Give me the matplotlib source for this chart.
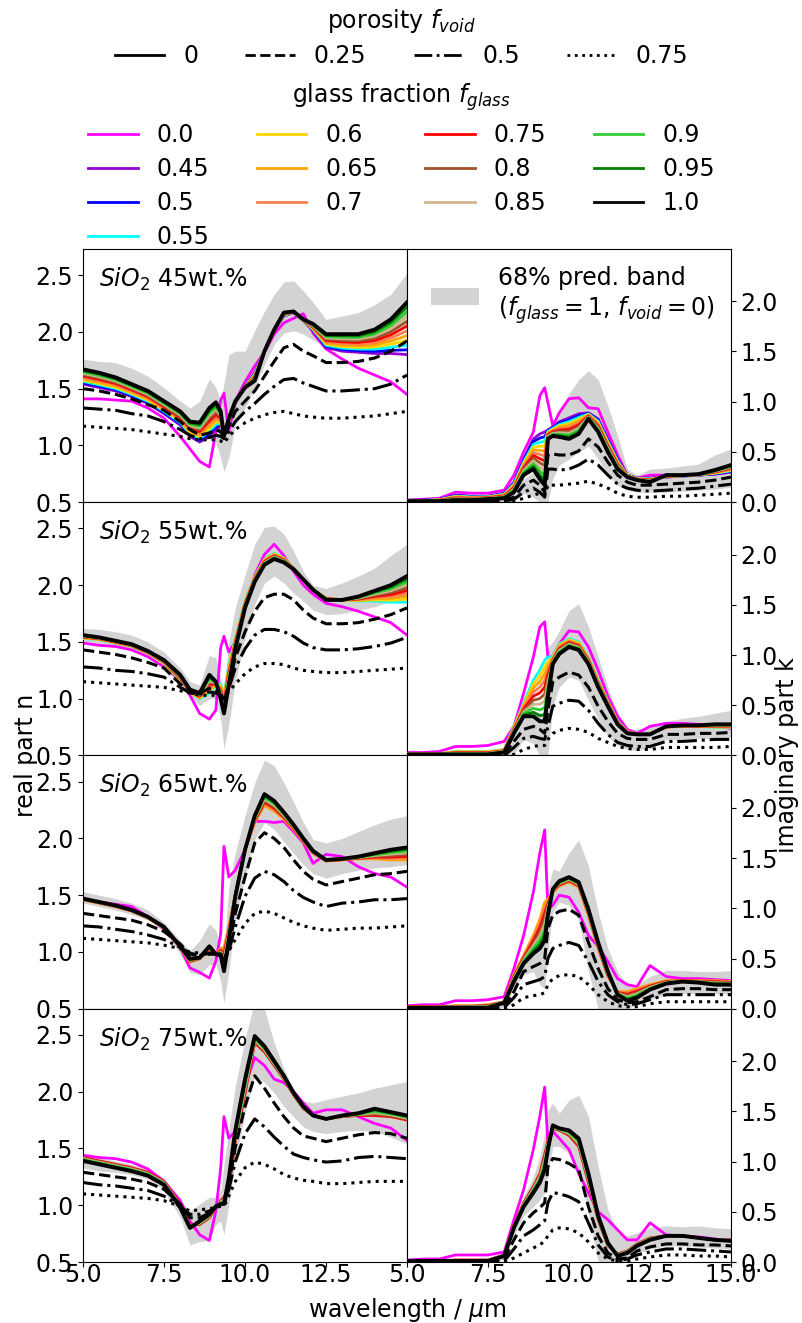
import matplotlib

matplotlib.use("Agg")
import matplotlib.pyplot as plt
import numpy as np
from matplotlib.lines import Line2D
from matplotlib.patches import Patch

# shared wavelength grid (micron)
WAVELENGTH = [5.0, 5.5, 6.0, 6.5, 7.0, 7.5, 8.0, 8.3, 8.6, 8.9, 9.1, 9.25, 9.35, 9.5, 9.7,
              10.0, 10.3, 10.6, 10.9, 11.2, 11.5, 11.8, 12.1, 12.5, 13.0, 13.5, 14.0, 14.5, 15.0]

GLASS_FRACTIONS = [0.0, 0.45, 0.5, 0.55, 0.6, 0.65, 0.7, 0.75, 0.8, 0.85, 0.9, 0.95, 1.0]
GLASS_COLORS = ["magenta", "darkviolet", "blue", "cyan", "gold", "orange", "coral",
                "red", "sienna", "tan", "limegreen", "green", "black"]
POROSITY = ["0", "0.25", "0.5", "0.75"]
SIO2_WT = ["45", "55", "65", "75"]
MIN_GLASS = [0.45, 0.55, 0.65, 0.75]  # lowest glass fraction drawn per composition

# ---- SiO2 45 wt.% ----
N45_G0 = [1.41, 1.41, 1.40, 1.39, 1.33, 1.24, 1.08, 0.97, 0.86, 0.81, 1.12, 1.40, 1.46, 1.12, 1.39,
          1.56, 1.70, 1.82, 1.98, 2.08, 2.12, 2.16, 1.99, 1.85, 1.76, 1.68, 1.62, 1.56, 1.45]
N45_GMIN = [1.54, 1.51, 1.48, 1.43, 1.37, 1.28, 1.18, 1.08, 1.03, 1.08, 1.14, 1.17, 1.08, 1.21, 1.37,
            1.52, 1.64, 1.83, 2.01, 2.14, 2.17, 2.10, 2.01, 1.86, 1.83, 1.82, 1.81, 1.81, 1.80]
N45_G1 = [1.67, 1.64, 1.60, 1.54, 1.48, 1.39, 1.30, 1.21, 1.20, 1.33, 1.38, 1.30, 1.08, 1.24, 1.39,
          1.51, 1.57, 1.83, 2.02, 2.17, 2.18, 2.11, 2.07, 1.98, 1.98, 1.98, 2.02, 2.11, 2.26]
N45_V25 = [1.50, 1.48, 1.45, 1.41, 1.36, 1.31, 1.21, 1.14, 1.09, 1.11, 1.14, 1.12, 1.07, 1.17, 1.30,
           1.39, 1.48, 1.61, 1.74, 1.86, 1.89, 1.83, 1.79, 1.73, 1.73, 1.74, 1.77, 1.83, 1.92]
N45_V50 = [1.33, 1.32, 1.31, 1.28, 1.26, 1.21, 1.14, 1.09, 1.06, 1.07, 1.09, 1.08, 1.06, 1.12, 1.21,
           1.30, 1.37, 1.45, 1.52, 1.58, 1.59, 1.55, 1.52, 1.48, 1.48, 1.49, 1.50, 1.54, 1.62]
N45_V75 = [1.17, 1.16, 1.15, 1.14, 1.12, 1.10, 1.08, 1.06, 1.05, 1.05, 1.05, 1.04, 1.02, 1.08, 1.14,
           1.20, 1.24, 1.27, 1.29, 1.30, 1.28, 1.26, 1.25, 1.24, 1.24, 1.25, 1.26, 1.28, 1.30]
N45_LO = [1.59, 1.56, 1.52, 1.46, 1.40, 1.31, 1.21, 1.12, 1.06, 1.06, 1.03, 0.89, 0.77, 0.89, 1.18,
          1.33, 1.51, 1.71, 1.89, 1.99, 2.01, 1.98, 1.93, 1.87, 1.89, 1.90, 1.93, 1.98, 2.07]
N45_HI = [1.76, 1.74, 1.73, 1.68, 1.61, 1.51, 1.39, 1.33, 1.39, 1.59, 1.51, 1.39, 1.54, 1.80, 1.83,
          1.83, 2.01, 2.18, 2.33, 2.44, 2.45, 2.36, 2.26, 2.11, 2.14, 2.17, 2.24, 2.33, 2.52]
K45_G0 = [0.02, 0.03, 0.04, 0.10, 0.09, 0.09, 0.12, 0.27, 0.50, 0.70, 1.06, 1.14, 0.99, 0.76, 0.89,
          1.03, 1.04, 0.94, 0.93, 0.70, 0.47, 0.27, 0.24, 0.27, 0.27, 0.27, 0.27, 0.28, 0.30]
K45_GMIN = [0.02, 0.02, 0.03, 0.07, 0.06, 0.06, 0.09, 0.20, 0.43, 0.63, 0.68, 0.70, 0.72, 0.75, 0.80,
            0.84, 0.88, 0.89, 0.83, 0.63, 0.43, 0.27, 0.24, 0.24, 0.25, 0.26, 0.27, 0.28, 0.30]
K45_G1 = [0.01, 0.01, 0.01, 0.02, 0.02, 0.03, 0.04, 0.10, 0.27, 0.33, 0.23, 0.17, 0.63, 0.66, 0.65,
          0.63, 0.68, 0.83, 0.70, 0.50, 0.33, 0.25, 0.22, 0.20, 0.27, 0.27, 0.28, 0.32, 0.37]
K45_V25 = [0.01, 0.01, 0.01, 0.01, 0.01, 0.01, 0.02, 0.05, 0.17, 0.22, 0.17, 0.10, 0.47, 0.48, 0.47,
           0.47, 0.51, 0.63, 0.55, 0.40, 0.27, 0.20, 0.17, 0.17, 0.18, 0.19, 0.20, 0.22, 0.25]
K45_V50 = [0.00, 0.00, 0.00, 0.01, 0.01, 0.01, 0.01, 0.03, 0.10, 0.14, 0.10, 0.05, 0.33, 0.33, 0.32,
           0.33, 0.37, 0.43, 0.37, 0.27, 0.18, 0.14, 0.12, 0.11, 0.12, 0.13, 0.14, 0.16, 0.18]
K45_V75 = [0.00, 0.00, 0.00, 0.00, 0.00, 0.00, 0.00, 0.01, 0.04, 0.07, 0.09, 0.07, 0.17, 0.17, 0.17,
           0.18, 0.19, 0.21, 0.18, 0.14, 0.09, 0.06, 0.05, 0.05, 0.06, 0.06, 0.07, 0.08, 0.09]
K45_LO = [0.00, 0.00, 0.00, 0.00, 0.00, 0.00, 0.00, 0.01, 0.09, 0.05, 0.00, 0.00, 0.00, 0.23, 0.37,
          0.43, 0.50, 0.56, 0.43, 0.27, 0.17, 0.12, 0.10, 0.10, 0.10, 0.11, 0.12, 0.13, 0.15]
K45_HI = [0.02, 0.02, 0.02, 0.03, 0.03, 0.04, 0.05, 0.10, 0.23, 0.30, 0.23, 0.17, 0.66, 0.70, 0.89,
          1.08, 1.22, 1.31, 1.22, 0.96, 0.66, 0.33, 0.27, 0.33, 0.34, 0.36, 0.38, 0.47, 0.53]

# ---- SiO2 55 wt.% ----
N55_G0 = [1.49, 1.47, 1.46, 1.43, 1.37, 1.28, 1.16, 1.03, 0.87, 0.82, 0.90, 1.45, 1.55, 1.41, 1.50,
          1.80, 2.09, 2.27, 2.36, 2.26, 2.12, 2.00, 1.92, 1.84, 1.81, 1.77, 1.72, 1.67, 1.56]
N55_GMIN = [1.53, 1.52, 1.49, 1.46, 1.40, 1.31, 1.16, 1.05, 1.00, 1.05, 1.12, 1.13, 1.03, 1.30, 1.53,
            1.86, 2.08, 2.23, 2.28, 2.24, 2.15, 2.05, 1.96, 1.89, 1.87, 1.86, 1.86, 1.85, 1.85]
N55_G1 = [1.56, 1.54, 1.51, 1.48, 1.42, 1.34, 1.21, 1.08, 1.05, 1.21, 1.15, 1.00, 0.87, 1.12, 1.44,
          1.80, 2.03, 2.18, 2.23, 2.20, 2.14, 2.05, 1.96, 1.87, 1.87, 1.90, 1.95, 2.00, 2.08]
N55_V25 = [1.43, 1.41, 1.39, 1.36, 1.32, 1.27, 1.13, 1.06, 1.05, 1.09, 1.08, 1.03, 0.97, 1.12, 1.36,
           1.59, 1.77, 1.89, 1.92, 1.92, 1.87, 1.78, 1.71, 1.66, 1.66, 1.67, 1.70, 1.74, 1.80]
N55_V50 = [1.28, 1.27, 1.25, 1.24, 1.22, 1.19, 1.10, 1.05, 1.04, 1.06, 1.05, 1.03, 1.00, 1.09, 1.27,
           1.44, 1.56, 1.61, 1.61, 1.59, 1.55, 1.49, 1.45, 1.43, 1.43, 1.44, 1.46, 1.49, 1.54]
N55_V75 = [1.15, 1.14, 1.13, 1.12, 1.11, 1.10, 1.07, 1.05, 1.03, 1.03, 1.03, 1.03, 1.02, 1.06, 1.13,
           1.22, 1.28, 1.31, 1.31, 1.30, 1.27, 1.25, 1.24, 1.23, 1.23, 1.24, 1.25, 1.26, 1.27]
N55_LO = [1.50, 1.48, 1.46, 1.43, 1.38, 1.30, 1.16, 1.02, 0.94, 1.00, 1.00, 0.82, 0.56, 0.77, 1.15,
          1.53, 1.83, 2.02, 2.08, 2.02, 1.93, 1.86, 1.78, 1.74, 1.75, 1.78, 1.81, 1.86, 1.92]
N55_HI = [1.62, 1.61, 1.59, 1.56, 1.50, 1.41, 1.27, 1.15, 1.12, 1.38, 1.36, 1.18, 1.06, 1.50, 1.80,
          2.09, 2.36, 2.51, 2.52, 2.45, 2.30, 2.12, 2.00, 1.97, 2.02, 2.08, 2.15, 2.26, 2.36]
K55_G0 = [0.03, 0.03, 0.04, 0.09, 0.09, 0.10, 0.14, 0.29, 0.62, 0.98, 1.28, 1.33, 0.98, 0.98, 1.11,
          1.24, 1.23, 1.08, 0.85, 0.59, 0.39, 0.26, 0.22, 0.29, 0.32, 0.32, 0.31, 0.29, 0.27]
K55_GMIN = [0.02, 0.02, 0.02, 0.04, 0.04, 0.04, 0.06, 0.29, 0.52, 0.75, 0.85, 0.95, 0.98, 0.98, 1.11,
            1.16, 1.13, 0.98, 0.75, 0.54, 0.34, 0.24, 0.21, 0.22, 0.28, 0.29, 0.29, 0.28, 0.28]
K55_G1 = [0.01, 0.01, 0.01, 0.01, 0.01, 0.01, 0.03, 0.22, 0.39, 0.39, 0.34, 0.34, 0.59, 0.91, 1.01,
          1.08, 1.05, 0.91, 0.68, 0.49, 0.31, 0.22, 0.21, 0.21, 0.29, 0.30, 0.30, 0.31, 0.31]
K55_V25 = [0.00, 0.00, 0.00, 0.00, 0.00, 0.00, 0.01, 0.14, 0.26, 0.29, 0.26, 0.22, 0.45, 0.73, 0.78,
           0.83, 0.80, 0.68, 0.49, 0.34, 0.22, 0.17, 0.16, 0.16, 0.21, 0.21, 0.22, 0.22, 0.23]
K55_V50 = [0.00, 0.00, 0.00, 0.00, 0.00, 0.00, 0.00, 0.08, 0.17, 0.19, 0.17, 0.16, 0.29, 0.49, 0.52,
           0.55, 0.54, 0.45, 0.32, 0.21, 0.13, 0.10, 0.09, 0.09, 0.14, 0.14, 0.15, 0.16, 0.16]
K55_V75 = [0.00, 0.00, 0.00, 0.00, 0.00, 0.00, 0.00, 0.01, 0.06, 0.09, 0.10, 0.10, 0.16, 0.22, 0.25,
           0.27, 0.26, 0.23, 0.17, 0.13, 0.09, 0.07, 0.06, 0.06, 0.08, 0.08, 0.08, 0.08, 0.09]
K55_LO = [0.00, 0.00, 0.00, 0.00, 0.00, 0.00, 0.00, 0.01, 0.16, 0.12, 0.00, 0.00, 0.00, 0.49, 0.68,
          0.78, 0.75, 0.55, 0.36, 0.19, 0.10, 0.06, 0.05, 0.07, 0.16, 0.16, 0.17, 0.17, 0.18]
K55_HI = [0.02, 0.02, 0.02, 0.02, 0.02, 0.03, 0.04, 0.26, 0.42, 0.45, 0.42, 0.42, 1.08, 1.13, 1.24,
          1.44, 1.51, 1.28, 0.98, 0.68, 0.42, 0.26, 0.26, 0.29, 0.34, 0.37, 0.39, 0.42, 0.45]

# ---- SiO2 65 wt.% ----
N65_G0 = [1.46, 1.44, 1.42, 1.40, 1.31, 1.20, 1.04, 0.86, 0.82, 0.77, 0.92, 1.16, 1.93, 1.66, 1.72,
          1.90, 2.15, 2.15, 2.14, 2.15, 2.06, 1.96, 1.78, 1.86, 1.84, 1.75, 1.69, 1.66, 1.57]
N65_GMIN = [1.46, 1.43, 1.40, 1.36, 1.30, 1.21, 1.04, 0.91, 0.94, 1.01, 0.98, 1.03, 1.04, 1.22, 1.51,
            1.90, 2.14, 2.29, 2.24, 2.17, 2.08, 1.97, 1.87, 1.80, 1.81, 1.82, 1.82, 1.81, 1.81]
N65_G1 = [1.47, 1.44, 1.41, 1.37, 1.31, 1.22, 1.05, 0.94, 0.95, 1.05, 0.98, 0.97, 0.83, 1.10, 1.49,
          1.90, 2.20, 2.39, 2.33, 2.23, 2.12, 2.00, 1.89, 1.81, 1.82, 1.84, 1.87, 1.90, 1.92]
N65_V25 = [1.34, 1.32, 1.30, 1.28, 1.24, 1.18, 1.07, 0.98, 0.97, 0.99, 0.98, 0.98, 0.89, 1.04, 1.34,
           1.66, 1.96, 2.05, 2.00, 1.92, 1.81, 1.71, 1.64, 1.59, 1.62, 1.65, 1.68, 1.69, 1.71]
N65_V50 = [1.23, 1.22, 1.20, 1.18, 1.15, 1.11, 1.04, 0.99, 0.97, 0.98, 0.98, 0.98, 0.92, 1.01, 1.22,
           1.49, 1.65, 1.71, 1.68, 1.62, 1.54, 1.48, 1.44, 1.40, 1.43, 1.44, 1.46, 1.46, 1.47]
N65_V75 = [1.12, 1.11, 1.10, 1.09, 1.08, 1.06, 1.03, 1.00, 0.99, 0.99, 0.99, 0.98, 0.95, 1.01, 1.11,
           1.25, 1.34, 1.36, 1.34, 1.30, 1.26, 1.23, 1.21, 1.19, 1.20, 1.21, 1.21, 1.22, 1.23]
N65_LO = [1.43, 1.40, 1.37, 1.33, 1.28, 1.19, 0.98, 0.82, 0.80, 0.89, 0.89, 0.74, 0.55, 0.83, 1.28,
          1.66, 1.99, 2.14, 2.08, 1.97, 1.87, 1.77, 1.69, 1.65, 1.69, 1.72, 1.74, 1.75, 1.77]
N65_HI = [1.53, 1.50, 1.47, 1.43, 1.37, 1.26, 1.10, 1.01, 1.10, 1.25, 1.19, 1.04, 1.01, 1.57, 1.87,
          2.20, 2.49, 2.69, 2.64, 2.49, 2.32, 2.14, 1.99, 1.96, 2.00, 2.06, 2.12, 2.17, 2.20]
K65_G0 = [0.03, 0.04, 0.04, 0.08, 0.08, 0.09, 0.12, 0.40, 0.73, 1.16, 1.55, 1.78, 0.99, 1.03, 1.13,
          1.11, 0.96, 0.73, 0.62, 0.47, 0.30, 0.24, 0.22, 0.43, 0.32, 0.30, 0.30, 0.29, 0.28]
K65_GMIN = [0.02, 0.02, 0.02, 0.03, 0.03, 0.04, 0.07, 0.34, 0.53, 0.73, 0.89, 1.06, 1.09, 1.16, 1.22,
            1.26, 1.21, 0.93, 0.60, 0.32, 0.17, 0.17, 0.20, 0.24, 0.28, 0.28, 0.28, 0.28, 0.27]
K65_G1 = [0.01, 0.01, 0.01, 0.01, 0.01, 0.01, 0.06, 0.27, 0.45, 0.55, 0.60, 0.68, 0.93, 1.19, 1.27,
          1.31, 1.26, 0.99, 0.66, 0.37, 0.14, 0.08, 0.11, 0.19, 0.25, 0.27, 0.26, 0.24, 0.24]
K65_V25 = [0.00, 0.00, 0.00, 0.00, 0.00, 0.00, 0.02, 0.17, 0.37, 0.42, 0.45, 0.50, 0.80, 0.93, 0.97,
           0.99, 0.93, 0.66, 0.40, 0.20, 0.09, 0.06, 0.07, 0.12, 0.19, 0.20, 0.20, 0.19, 0.19]
K65_V50 = [0.00, 0.00, 0.00, 0.00, 0.00, 0.00, 0.01, 0.11, 0.24, 0.27, 0.29, 0.32, 0.50, 0.60, 0.63,
           0.66, 0.63, 0.47, 0.27, 0.14, 0.07, 0.04, 0.05, 0.09, 0.14, 0.14, 0.14, 0.14, 0.14]
K65_V75 = [0.00, 0.00, 0.00, 0.00, 0.00, 0.00, 0.00, 0.04, 0.11, 0.13, 0.14, 0.16, 0.24, 0.30, 0.33,
           0.34, 0.32, 0.24, 0.14, 0.07, 0.03, 0.02, 0.02, 0.05, 0.07, 0.07, 0.07, 0.07, 0.07]
K65_LO = [0.00, 0.00, 0.00, 0.00, 0.00, 0.00, 0.01, 0.20, 0.34, 0.37, 0.24, 0.20, 0.57, 0.96, 1.06,
          1.03, 0.89, 0.37, 0.00, 0.00, 0.00, 0.00, 0.04, 0.09, 0.14, 0.15, 0.15, 0.15, 0.15]
K65_HI = [0.02, 0.02, 0.02, 0.02, 0.02, 0.03, 0.07, 0.30, 0.50, 0.63, 0.73, 0.80, 1.19, 1.39, 1.37,
          1.55, 1.68, 1.42, 0.96, 0.60, 0.37, 0.24, 0.24, 0.32, 0.38, 0.38, 0.37, 0.37, 0.38]

# ---- SiO2 75 wt.% ----
N75_G0 = [1.44, 1.42, 1.41, 1.38, 1.32, 1.21, 1.04, 0.86, 0.74, 0.69, 0.95, 1.33, 1.78, 1.59, 1.65,
          2.05, 2.30, 2.23, 2.11, 2.08, 2.00, 1.90, 1.81, 1.84, 1.84, 1.78, 1.72, 1.68, 1.57]
N75_GMIN = [1.42, 1.39, 1.36, 1.33, 1.29, 1.21, 1.01, 0.82, 0.83, 0.89, 0.98, 1.04, 1.07, 1.15, 1.55,
            1.98, 2.43, 2.35, 2.23, 2.11, 1.97, 1.85, 1.79, 1.76, 1.78, 1.79, 1.79, 1.78, 1.75]
N75_G1 = [1.39, 1.36, 1.33, 1.30, 1.26, 1.18, 0.98, 0.80, 0.86, 0.92, 0.99, 1.01, 1.01, 1.24, 1.66,
          2.11, 2.49, 2.40, 2.27, 2.14, 1.99, 1.87, 1.79, 1.76, 1.79, 1.81, 1.85, 1.82, 1.79]
N75_V25 = [1.29, 1.27, 1.25, 1.23, 1.20, 1.14, 1.01, 0.89, 0.89, 0.93, 0.99, 1.01, 1.01, 1.18, 1.51,
           1.87, 2.14, 2.03, 1.90, 1.78, 1.68, 1.61, 1.59, 1.56, 1.59, 1.62, 1.64, 1.63, 1.59]
N75_V50 = [1.20, 1.18, 1.17, 1.15, 1.13, 1.08, 0.99, 0.92, 0.92, 0.95, 0.98, 1.01, 1.01, 1.14, 1.38,
           1.63, 1.76, 1.69, 1.60, 1.52, 1.45, 1.42, 1.40, 1.38, 1.39, 1.42, 1.43, 1.42, 1.41]
N75_V75 = [1.10, 1.09, 1.08, 1.07, 1.06, 1.04, 0.99, 0.95, 0.96, 0.97, 0.98, 0.99, 0.99, 1.08, 1.21,
           1.33, 1.38, 1.36, 1.32, 1.27, 1.24, 1.22, 1.21, 1.19, 1.19, 1.20, 1.21, 1.21, 1.21]
N75_LO = [1.33, 1.30, 1.29, 1.27, 1.23, 1.13, 0.89, 0.65, 0.68, 0.69, 0.83, 0.86, 0.74, 1.01, 1.39,
          1.81, 2.14, 2.08, 1.99, 1.87, 1.78, 1.69, 1.65, 1.63, 1.65, 1.66, 1.65, 1.60, 1.54]
N75_HI = [1.45, 1.42, 1.39, 1.36, 1.32, 1.24, 1.05, 0.95, 1.01, 1.07, 1.07, 1.13, 1.36, 1.66, 2.05,
          2.46, 2.80, 2.73, 2.43, 2.20, 2.02, 1.92, 1.90, 1.93, 1.96, 1.99, 2.03, 2.06, 2.09]
K75_G0 = [0.02, 0.03, 0.03, 0.07, 0.07, 0.07, 0.10, 0.42, 0.72, 1.12, 1.45, 1.74, 1.18, 1.30, 1.23,
          1.12, 0.88, 0.69, 0.50, 0.42, 0.32, 0.22, 0.22, 0.39, 0.27, 0.26, 0.25, 0.23, 0.21]
K75_GMIN = [0.01, 0.01, 0.01, 0.02, 0.02, 0.02, 0.07, 0.36, 0.59, 0.75, 0.88, 1.07, 1.21, 1.33, 1.31,
            1.26, 1.15, 0.79, 0.42, 0.16, 0.08, 0.11, 0.18, 0.24, 0.26, 0.26, 0.24, 0.22, 0.22]
K75_G1 = [0.01, 0.01, 0.01, 0.01, 0.01, 0.01, 0.06, 0.34, 0.55, 0.69, 0.79, 0.92, 1.12, 1.36, 1.33,
          1.31, 1.23, 0.88, 0.46, 0.19, 0.06, 0.09, 0.16, 0.22, 0.26, 0.26, 0.24, 0.22, 0.21]
K75_V25 = [0.00, 0.00, 0.00, 0.00, 0.00, 0.00, 0.03, 0.22, 0.39, 0.49, 0.54, 0.59, 0.95, 1.03, 1.02,
           0.98, 0.92, 0.55, 0.26, 0.09, 0.03, 0.04, 0.11, 0.15, 0.18, 0.18, 0.17, 0.17, 0.16]
K75_V50 = [0.00, 0.00, 0.00, 0.00, 0.00, 0.00, 0.01, 0.13, 0.26, 0.32, 0.37, 0.41, 0.59, 0.69, 0.68,
           0.65, 0.60, 0.39, 0.17, 0.05, 0.01, 0.03, 0.07, 0.10, 0.13, 0.13, 0.12, 0.11, 0.10]
K75_V75 = [0.00, 0.00, 0.00, 0.00, 0.00, 0.00, 0.00, 0.04, 0.09, 0.14, 0.17, 0.21, 0.26, 0.32, 0.34,
           0.33, 0.29, 0.20, 0.09, 0.03, 0.01, 0.01, 0.03, 0.05, 0.07, 0.07, 0.06, 0.06, 0.05]
K75_LO = [0.00, 0.00, 0.00, 0.00, 0.00, 0.00, 0.02, 0.26, 0.46, 0.55, 0.62, 0.69, 0.88, 1.15, 1.15,
          1.08, 0.88, 0.49, 0.00, 0.00, 0.00, 0.01, 0.08, 0.13, 0.16, 0.16, 0.15, 0.14, 0.13]
K75_HI = [0.02, 0.02, 0.02, 0.02, 0.02, 0.03, 0.08, 0.42, 0.65, 0.85, 1.05, 1.28, 1.51, 1.58, 1.48,
          1.61, 1.66, 1.45, 0.95, 0.52, 0.29, 0.26, 0.29, 0.34, 0.36, 0.35, 0.36, 0.34, 0.33]

# per row: (real part curves, imaginary part curves); each = g0, gmin, g1, v25, v50, v75, lo, hi
ROWS = [
    ((N45_G0, N45_GMIN, N45_G1, N45_V25, N45_V50, N45_V75, N45_LO, N45_HI),
     (K45_G0, K45_GMIN, K45_G1, K45_V25, K45_V50, K45_V75, K45_LO, K45_HI)),
    ((N55_G0, N55_GMIN, N55_G1, N55_V25, N55_V50, N55_V75, N55_LO, N55_HI),
     (K55_G0, K55_GMIN, K55_G1, K55_V25, K55_V50, K55_V75, K55_LO, K55_HI)),
    ((N65_G0, N65_GMIN, N65_G1, N65_V25, N65_V50, N65_V75, N65_LO, N65_HI),
     (K65_G0, K65_GMIN, K65_G1, K65_V25, K65_V50, K65_V75, K65_LO, K65_HI)),
    ((N75_G0, N75_GMIN, N75_G1, N75_V25, N75_V50, N75_V75, N75_LO, N75_HI),
     (K75_G0, K75_GMIN, K75_G1, K75_V25, K75_V50, K75_V75, K75_LO, K75_HI)),
]

FS = 17
VOID_STYLES = ["-", "--", "-.", ":"]


def draw_panel(ax, curves, f_min):
    g0, gmin, g1, v25, v50, v75, lo, hi = (np.asarray(c) for c in curves)
    wl = np.asarray(WAVELENGTH)
    ax.fill_between(wl, lo, hi, color="lightgray", lw=0, zorder=1)
    ax.plot(wl, g0, color=GLASS_COLORS[0], lw=2, zorder=2)
    # glass fractions between the lowest drawn one and pure glass sit in a fan
    for frac, color in zip(GLASS_FRACTIONS[1:-1], GLASS_COLORS[1:-1]):
        if frac < f_min - 1e-9:
            continue
        w = (frac - f_min) / (1.0 - f_min)
        ax.plot(wl, gmin + w * (g1 - gmin), color=color, lw=2, zorder=3)
    ax.plot(wl, g1, color="black", lw=2.8, zorder=4)
    for vals, ls in zip((v25, v50, v75), VOID_STYLES[1:]):
        ax.plot(wl, vals, color="black", lw=2.2, ls=ls, zorder=5)


fig = plt.figure(figsize=(8.03, 13.23), dpi=100)
gs = fig.add_gridspec(4, 2, left=0.1034, right=0.9103, top=0.8118, bottom=0.0461,
                      hspace=0, wspace=0)

for r, (n_curves, k_curves) in enumerate(ROWS):
    ax_n = fig.add_subplot(gs[r, 0])
    ax_k = fig.add_subplot(gs[r, 1])
    draw_panel(ax_n, n_curves, MIN_GLASS[r])
    draw_panel(ax_k, k_curves, MIN_GLASS[r])

    ax_n.set_xlim(5, 15)
    ax_k.set_xlim(5, 15)
    ax_n.set_ylim(0.5, 2.73)
    ax_k.set_ylim(0.0, 2.52)
    ax_n.set_yticks([0.5, 1.0, 1.5, 2.0, 2.5])
    ax_k.set_yticks([0.0, 0.5, 1.0, 1.5, 2.0])
    ax_k.yaxis.tick_right()
    ax_n.set_xticks([5.0, 7.5, 10.0, 12.5])
    ax_k.set_xticks([5.0, 7.5, 10.0, 12.5, 15.0])
    for ax in (ax_n, ax_k):
        ax.tick_params(labelsize=FS)
        ax.tick_params(axis="x", pad=-2.5)
        if r < 3:
            ax.tick_params(labelbottom=False)
    ax_n.text(0.05, 0.88, f"$SiO_2$ {SIO2_WT[r]}wt.%", transform=ax_n.transAxes,
              fontsize=FS, va="center", ha="left")

    if r == 0:
        ax_k.legend(handles=[Patch(facecolor="lightgray", edgecolor="none")],
                    labels=["68% pred. band\n($f_{glass}=1$, $f_{void}=0$)"],
                    loc="upper right", frameon=False, fontsize=FS, borderaxespad=0.3)

fig.text(0.032, 0.4293, "real part n", rotation=90, fontsize=FS, ha="center", va="center")
fig.text(0.98, 0.4293, "imaginary part k", rotation=90, fontsize=FS, ha="center", va="center")
fig.text(0.507, 0.0098, "wavelength / $\\mu$m", fontsize=FS, ha="center", va="center")

void_handles = [Line2D([], [], color="black", lw=2, ls=ls) for ls in VOID_STYLES]
fig.legend(void_handles, POROSITY, loc="upper center", bbox_to_anchor=(0.5, 1.0105), ncol=4,
           frameon=False, fontsize=FS, title="porosity $f_{void}$", title_fontsize=FS,
           handlelength=2.1, labelspacing=0.37)

glass_handles = [Line2D([], [], color=c, lw=2) for c in GLASS_COLORS]
fig.legend(glass_handles, [str(f) for f in GLASS_FRACTIONS], loc="upper center",
           bbox_to_anchor=(0.5, 0.9544), ncol=4, frameon=False, fontsize=FS,
           title="glass fraction $f_{glass}$", title_fontsize=FS, handlelength=2.1,
           labelspacing=0.42)

fig.savefig("out.png", dpi=100)
plt.close(fig)
